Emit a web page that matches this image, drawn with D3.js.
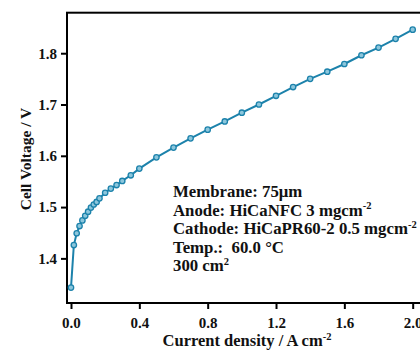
<!DOCTYPE html>
<html>
<head>
<meta charset="utf-8">
<script src="https://cdn.jsdelivr.net/npm/d3@7"></script>
<style>
  html, body { margin: 0; padding: 0; background: #fff; }
  svg { display: block; }
  text { font-family: "Liberation Serif", "Times New Roman", serif; font-weight: bold; fill: #111; }
</style>
</head>
<body>
<svg id="chart" width="420" height="353"></svg>
<script>
// Polarization curve: current density (A cm^-2) vs cell voltage (V)
const currentDensity = [0, 0.0167, 0.0333, 0.05, 0.0667, 0.0833, 0.1, 0.1167, 0.1333, 0.15, 0.1667,
  0.2, 0.2333, 0.2667, 0.3, 0.35, 0.4, 0.5, 0.6, 0.7, 0.8, 0.9, 1.0, 1.1, 1.2, 1.3, 1.4, 1.5,
  1.6, 1.7, 1.8, 1.9, 2.0];
const cellVoltage = [1.343, 1.426, 1.449, 1.463, 1.474, 1.483, 1.491, 1.499, 1.505, 1.510, 1.517,
  1.528, 1.536, 1.543, 1.551, 1.562, 1.575, 1.597, 1.616, 1.634, 1.651, 1.667, 1.684, 1.700,
  1.717, 1.734, 1.750, 1.764, 1.779, 1.796, 1.811, 1.828, 1.846];
const xTicks = [0.0, 0.4, 0.8, 1.2, 1.6, 2.0];
const yTicks = [1.4, 1.5, 1.6, 1.7, 1.8];
const xTitle = "Current density / A cm";
const xTitleSup = "-2";
const yTitle = "Cell Voltage / V";
// Annotation lines: [main text, superscript]
const noteLines = [
  ["Membrane: 75μm", ""],
  ["Anode: HiCaNFC 3 mgcm", "-2"],
  ["Cathode: HiCaPR60-2 0.5 mgcm", "-2"],
  ["Temp.:  60.0 °C", ""],
  ["300 cm", "2"]
];

const svg = d3.select("#chart");
const x = d3.scaleLinear().domain([-0.0234, 2.075]).range([67, 425.5]);
const y = d3.scaleLinear().domain([1.313, 1.879]).range([303, 12.7]);

const lineColor = "#1c82ab";

// Frame
svg.append("rect")
  .attr("x", x.range()[0]).attr("y", y.range()[1])
  .attr("width", x.range()[1] - x.range()[0])
  .attr("height", y.range()[0] - y.range()[1])
  .attr("fill", "none").attr("stroke", "#000").attr("stroke-width", 2);

// Axes
const fmt = d3.format(".1f");
const xAxis = svg.append("g").attr("transform", `translate(0,${y.range()[0]})`)
  .call(d3.axisBottom(x).tickValues(xTicks).tickFormat(fmt).tickSize(6).tickPadding(8));
const yAxis = svg.append("g").attr("transform", `translate(${x.range()[0]},0)`)
  .call(d3.axisLeft(y).tickValues(yTicks).tickFormat(fmt).tickSize(6).tickPadding(4));
[xAxis, yAxis].forEach(g => {
  g.select(".domain").remove();
  g.selectAll(".tick line").attr("stroke", "#000").attr("stroke-width", 2);
  g.selectAll(".tick text").attr("font-size", 15)
    .attr("font-family", "Liberation Serif, serif").attr("font-weight", "bold").attr("fill", "#111");
});

// Axis titles
const xt = svg.append("text").attr("x", 247).attr("y", 346).attr("text-anchor", "middle")
  .attr("font-size", 16.5);
xt.append("tspan").text(xTitle);
xt.append("tspan").attr("dy", -6).attr("font-size", 10.5).text(xTitleSup);

svg.append("text").attr("transform", "translate(31,159) rotate(-90)")
  .attr("text-anchor", "middle").attr("font-size", 15.5).text(yTitle);

// Curve
const line = d3.line().x((d, i) => x(currentDensity[i])).y(d => y(d));
svg.append("path").datum(cellVoltage).attr("d", line)
  .attr("fill", "none").attr("stroke", lineColor).attr("stroke-width", 2);

svg.append("g").selectAll("circle").data(cellVoltage).join("circle")
  .attr("cx", (d, i) => x(currentDensity[i])).attr("cy", d => y(d))
  .attr("r", 2.7).attr("fill", "#8cc6dc").attr("stroke", lineColor).attr("stroke-width", 1.3);

// Annotation block
const note = svg.append("g");
noteLines.forEach((ln, i) => {
  const t = note.append("text").attr("x", 173).attr("y", 197 + i * 18.6)
    .attr("font-size", 16.8).style("white-space", "pre");
  t.append("tspan").text(ln[0]);
  if (ln[1]) t.append("tspan").attr("dy", -6.5).attr("font-size", 10.5).text(ln[1]);
});
</script>
</body>
</html>
